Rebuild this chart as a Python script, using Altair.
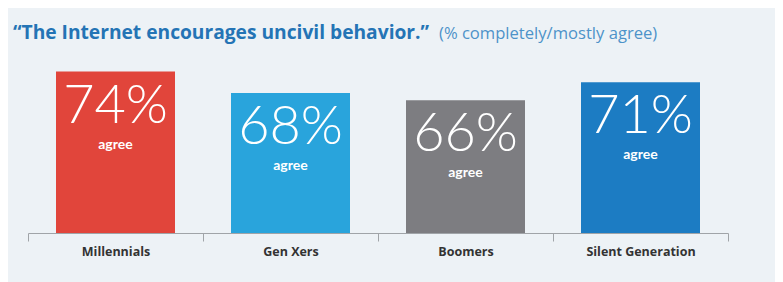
import altair as alt
import pandas as pd

categories = ["Millennials", "Gen Xers", "Boomers", "Silent Generation"]
values = [74, 68, 66, 71]
bar_colors = ["#e1453b", "#29a4dc", "#7d7d81", "#1c7cc3"]
title_main = "\u201cThe Internet encourages uncivil behavior.\u201d"
title_note = "(% completely/mostly agree)"
inner_label = "agree"

df = pd.DataFrame({
    "cat": categories,
    "value": values,
    "label": [f"{v}%" for v in values],
})

x_enc = alt.X(
    "cat:N",
    sort=categories,
    scale=alt.Scale(paddingInner=0, paddingOuter=0),
    axis=alt.Axis(
        title=None,
        labelAngle=0,
        tickBand="extent",
        tickSize=8,
        tickColor="#a0a4a8",
        domainColor="#a0a4a8",
        labelFont="Open Sans",
        labelFontWeight="bold",
        labelFontSize=12.5,
        labelColor="#333333",
        labelPadding=4,
    ),
)
y_scale = alt.Scale(domain=[29, 80], clamp=True)

base = alt.Chart(df).encode(x=x_enc)

bars = base.mark_bar(width=alt.RelativeBandSize(0.68)).encode(
    y=alt.Y("value:Q", scale=y_scale, axis=None),
    color=alt.Color("cat:N", scale=alt.Scale(domain=categories, range=bar_colors), legend=None),
)

nums = base.mark_text(
    font="Lato", fontWeight=300, fontSize=54, color="white",
    baseline="alphabetic", dy=51,
).encode(y=alt.Y("value:Q", scale=y_scale), text="label:N")

agree = base.mark_text(
    font="Lato", fontWeight="bold", fontSize=14, color="white",
    baseline="alphabetic", dy=77,
).encode(y=alt.Y("value:Q", scale=y_scale), text=alt.value(inner_label))

t1 = alt.Chart(pd.DataFrame({"t": [title_main]})).mark_text(
    align="left", baseline="alphabetic", font="Open Sans", fontWeight="bold",
    fontSize=19.2, color="#2474b5",
).encode(x=alt.value(-15), y=alt.value(-11), text="t:N")

t2 = alt.Chart(pd.DataFrame({"t": [title_note]})).mark_text(
    align="left", baseline="alphabetic", font="Open Sans", fontWeight="normal",
    fontSize=16.6, color="#4d93c9",
).encode(x=alt.value(411), y=alt.value(-11), text="t:N")

chart = alt.layer(bars, nums, agree, t1, t2).properties(
    width=700,
    height=183,
    autosize=alt.AutoSizeParams(type="none"),
    padding={"left": 20, "top": 42, "right": 47, "bottom": 49},
    background="#edf2f6",
).configure_view(stroke=None)

chart.save("out.html", embed_options={"renderer": "svg", "actions": False})
